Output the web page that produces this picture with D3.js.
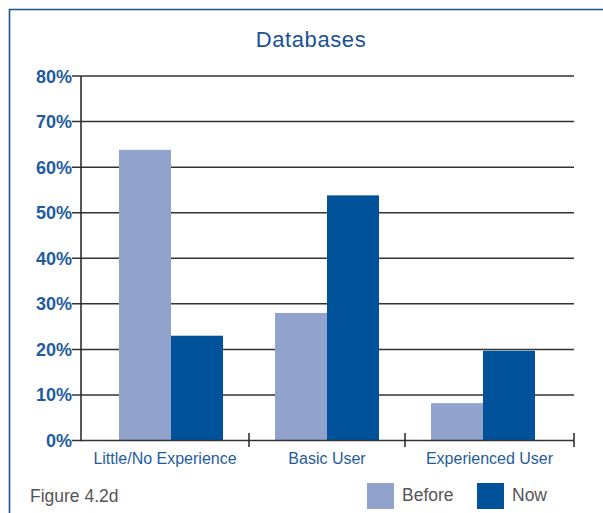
<!DOCTYPE html>
<html><head><meta charset="utf-8">
<script src="https://cdn.jsdelivr.net/npm/d3@7"></script>
<style>html,body{margin:0;padding:0;background:#fff;} svg{display:block;}</style>
</head><body>
<script>
const categories = ["Little/No Experience", "Basic User", "Experienced User"];
const seriesNames = ["Before", "Now"];
const before = [63.8, 28.0, 8.2];
const now = [23.0, 53.8, 19.7];
const yTicks = [0, 10, 20, 30, 40, 50, 60, 70, 80];
const title = "Databases";
const caption = "Figure 4.2d";

const W = 603, H = 513;
const blue = "#1f5c9e", cBefore = "#91a3cc", cNow = "#00529b";
const svg = d3.select("body").append("svg").attr("width", W).attr("height", H);

// frame
svg.append("path").attr("d", `M9.5,${H} V9.5 H${W}`).attr("fill","none").attr("stroke","#1a5296").attr("stroke-width",1.6);

svg.append("text").attr("x", 311).attr("y", 47).attr("text-anchor","middle")
  .attr("font-family","Liberation Sans, Arial, sans-serif").attr("font-size",22).attr("fill","#1a5296")
  .attr("letter-spacing", 0.6).text(title);

const axisL = 81, axisR = 574;
const y = d3.scaleLinear().domain([0, 80]).range([440.5, 76]);
const x = d3.scaleBand().domain(categories).range([93, 561]).paddingInner(1/3).paddingOuter(1/6);
const xs = d3.scaleBand().domain(seriesNames).range([0, x.bandwidth()]);

// gridlines
svg.append("g").selectAll("line").data(yTicks.filter(d => d > 0)).join("line")
  .attr("x1", 72).attr("x2", axisR).attr("y1", d => y(d)).attr("y2", d => y(d))
  .attr("stroke","#333").attr("stroke-width",1.5);

// y labels
svg.append("g").selectAll("text").data(yTicks).join("text")
  .attr("x", 72).attr("y", d => y(d) + 6.5).attr("text-anchor","end")
  .attr("font-family","Liberation Sans, Arial, sans-serif").attr("font-size",18).attr("font-weight","bold")
  .attr("fill", blue).text(d => d + "%");

// bars
const data = categories.map((c, i) => ({c, vals: [{s:"Before", v: before[i]}, {s:"Now", v: now[i]}]}));
const g = svg.append("g").selectAll("g").data(data).join("g").attr("transform", d => `translate(${x(d.c)},0)`);
g.selectAll("rect").data(d => d.vals).join("rect")
  .attr("x", d => xs(d.s)).attr("width", xs.bandwidth())
  .attr("y", d => y(d.v)).attr("height", d => y(0) - y(d.v))
  .attr("fill", d => d.s === "Before" ? cBefore : cNow);

// axes lines
svg.append("line").attr("x1", axisL).attr("x2", axisL).attr("y1", y(80)).attr("y2", y(0)+0.7).attr("stroke","#222").attr("stroke-width",1.5);
svg.append("line").attr("x1", 72).attr("x2", axisR).attr("y1", y(0)).attr("y2", y(0)).attr("stroke","#333").attr("stroke-width",1.5);

// x ticks at category boundaries
const step = x.step();
const bounds = [axisL, ...categories.slice(0, -1).map(c => x(c) + x.bandwidth() + step * x.paddingInner() / 2), axisR];
svg.append("g").selectAll("line").data(bounds.slice(1)).join("line")
  .attr("x1", d => d).attr("x2", d => d).attr("y1", 433).attr("y2", 447)
  .attr("stroke","#222").attr("stroke-width",1.5);

svg.append("g").selectAll("text").data(categories).join("text")
  .attr("x", (d, i) => (bounds[i] + bounds[i+1]) / 2).attr("y", 463.5).attr("text-anchor","middle")
  .attr("font-family","Liberation Sans, Arial, sans-serif").attr("font-size",16)
  .attr("fill", blue).text(d => d);

svg.append("text").attr("x", 30).attr("y", 502).attr("font-family","Liberation Sans, Arial, sans-serif")
  .attr("font-size",17.5).attr("fill","#555").text(caption);

// legend
const legX = [367, 477];
const leg = svg.append("g").selectAll("g").data(seriesNames).join("g")
  .attr("transform", (d, i) => `translate(${legX[i]},0)`);
leg.append("rect").attr("x",0).attr("y",483).attr("width",27).attr("height",26)
  .attr("fill", d => d === "Before" ? cBefore : cNow);
leg.append("text").attr("x",35).attr("y",501).attr("font-family","Liberation Sans, Arial, sans-serif")
  .attr("font-size",17.5).attr("fill","#555").text(d => d);
</script>
</body></html>
